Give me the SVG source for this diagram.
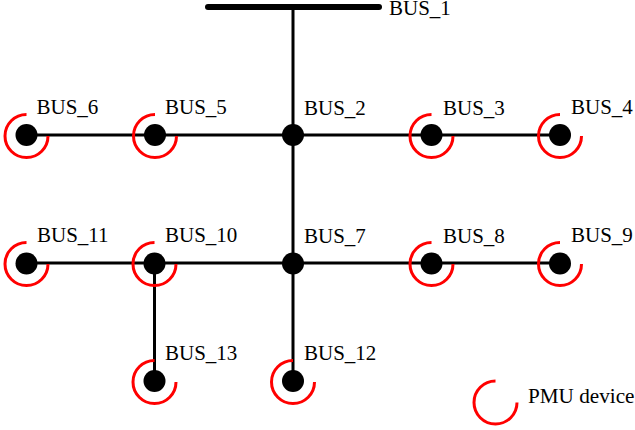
<svg xmlns="http://www.w3.org/2000/svg" width="635" height="430" viewBox="0 0 635 430">
<style>
.l{stroke:#000;stroke-width:3;fill:none}
.a{stroke:#f00;stroke-width:3;fill:none}
.n{fill:#000}
text{font-family:"Liberation Serif","Times New Roman",serif;font-size:21px;fill:#000}
</style>
<defs>
<path id="arc" class="a" d="M0,-21.5A21.5,21.5 0 1 0 21.5,0"/>
<circle id="dot" class="n" r="11"/>
</defs>
<rect width="635" height="430" fill="#fff"/>
<g id="connectors">
<path d="M208,7H379" stroke="#000" stroke-width="6" stroke-linecap="round" fill="none"/>
<path class="l" d="M293,7V381"/>
<path class="l" d="M26,135H560"/>
<path class="l" d="M26,263H560"/>
<path class="l" d="M154.500,263V381"/>
</g>
<g id="bus1"><text x="389" y="14.500">BUS_1</text></g>
<g id="bus2"><use href="#dot" x="293" y="135"/><text x="304" y="115">BUS_2</text></g>
<g id="bus3"><use href="#arc" x="431.500" y="136"/><use href="#dot" x="431.500" y="135"/><text x="443" y="115">BUS_3</text></g>
<g id="bus4"><use href="#arc" x="560" y="136"/><use href="#dot" x="560" y="135"/><text x="571" y="114">BUS_4</text></g>
<g id="bus5"><use href="#arc" x="155" y="136"/><use href="#dot" x="155" y="135"/><text x="165" y="114">BUS_5</text></g>
<g id="bus6"><use href="#arc" x="26.500" y="136"/><use href="#dot" x="26.500" y="135"/><text x="36.500" y="114">BUS_6</text></g>
<g id="bus7"><use href="#dot" x="293" y="263.500"/><text x="304" y="243">BUS_7</text></g>
<g id="bus8"><use href="#arc" x="431.500" y="264"/><use href="#dot" x="431.500" y="263.500"/><text x="443" y="243">BUS_8</text></g>
<g id="bus9"><use href="#arc" x="560" y="264"/><use href="#dot" x="560" y="263.500"/><text x="571" y="242">BUS_9</text></g>
<g id="bus10"><use href="#arc" x="154.500" y="264"/><use href="#dot" x="154.500" y="263.500"/><text x="165" y="241.500">BUS_10</text></g>
<g id="bus11"><use href="#arc" x="26.500" y="264"/><use href="#dot" x="26.500" y="263.500"/><text x="37" y="242">BUS_11</text></g>
<g id="bus12"><use href="#arc" x="293" y="382"/><use href="#dot" x="293" y="381"/><text x="304" y="359.500">BUS_12</text></g>
<g id="bus13"><use href="#arc" x="154.500" y="382"/><use href="#dot" x="154.500" y="381"/><text x="165" y="360">BUS_13</text></g>
<g id="legend"><use href="#arc" x="495.500" y="402.500"/><text x="528" y="403" style="font-size:21.2px">PMU device</text></g>
</svg>
